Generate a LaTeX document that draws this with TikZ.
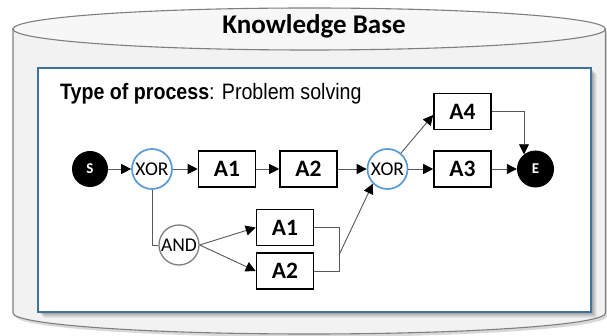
\documentclass[tikz,border=0pt]{standalone}
\usepackage{fontspec}
\setmainfont{Carlito}
\newfontfamily\arialn[FakeStretch=0.88]{Liberation Sans}
\usetikzlibrary{arrows.meta,calc}

\definecolor{cylfill}{HTML}{F2F2F2}
\definecolor{cyltop}{HTML}{F7F7F7}
\definecolor{cylline}{HTML}{7F7F7F}
\definecolor{framecol}{HTML}{41719C}
\definecolor{xorcol}{HTML}{5B9BD5}
\definecolor{andcol}{HTML}{7F7F7F}
\definecolor{linecol}{HTML}{595959}

\begin{document}
\begin{tikzpicture}[x=1pt,y=-1pt,
 actbox/.style={draw=black,line width=1.6pt,fill=white,minimum width=57pt,minimum height=36pt,inner sep=0pt,font=\fontsize{23.5}{24}\selectfont\bfseries},
 xorgate/.style={circle,draw=xorcol,line width=1.7pt,fill=white,minimum size=40pt,inner sep=0pt,font=\fontsize{19.5}{20}\selectfont},
 andgate/.style={circle,draw=andcol,line width=1.3pt,fill=white,minimum size=40pt,inner sep=0pt,font=\fontsize{19.5}{20}\selectfont},
 terminal/.style={circle,fill=black,minimum size=36pt,inner sep=0pt,text=white,font=\fontsize{15}{15}\selectfont\bfseries},
 conn/.style={draw=linecol,line width=0.9pt},
 arr/.style={conn,-{Triangle[length=10pt,width=10pt,color=black]}},
 cylshape/.style={draw=cylline,line width=1.1pt},
]
\useasboundingbox (0,0) rectangle (607,336);

% cylinder shadow
\fill[black,opacity=0.15] (15,32) -- (15,316) arc[start angle=180,end angle=360,x radius=296.25pt,y radius=21pt] -- (607.5,32) -- cycle;
% cylinder body
\draw[cylshape,fill=cylfill] (13,29) -- (13,313) arc[start angle=180,end angle=360,x radius=296.25pt,y radius=21pt] -- (605.5,29) -- cycle;
% cylinder top
\draw[cylshape,fill=cyltop] (309.25,29) ellipse [x radius=296.25pt,y radius=21pt];

% inner frame shadow and frame
\foreach \d/\o in {1/0.10,2/0.09,3/0.08,4/0.07,5/0.06,6/0.05} {
  \fill[black,opacity=\o] (38+\d,68+\d) rectangle (591+\d,312+\d);
}
\draw[framecol,line width=1.4pt,fill=white] (38,68) rectangle (591,312);

% texts
\node[anchor=base,inner sep=0pt,font=\fontsize{27}{27}\selectfont\bfseries] (title) at (314,34) {Knowledge Base};
\node[anchor=base west,inner sep=0pt,font=\arialn\fontsize{22.3}{23}\selectfont] (ptype) at (60,99.5) {\textbf{Type of process}: Problem solving};

% nodes
\node[terminal] (S) at (90,169) {S};
\node[xorgate] (X1) at (152,169) {XOR};
\node[actbox] (A1) at (227,169) {A1};
\node[actbox] (A2) at (308.5,169) {A2};
\node[xorgate] (X2) at (387.5,169) {XOR};
\node[actbox] (A3) at (462.5,169) {A3};
\node[actbox] (A4) at (462.5,111.5) {A4};
\node[terminal,minimum size=37pt] (E) at (535.5,169) {E};
\node[andgate] (AND) at (179,245) {AND};
\node[actbox] (B1) at (285,227.5) {A1};
\node[actbox] (B2) at (285,271) {A2};
\coordinate (J) at (339,255);

% connectors
\draw[arr] (S) -- (X1);
\draw[arr] (X1) -- (A1);
\draw[arr] (A1) -- (A2);
\draw[arr] (A2) -- (X2);
\draw[arr] (X2) -- (A3);
\draw[arr] (A3) -- (E);
\draw[arr] (X2) -- ([yshift=-3.5pt]A4.west);
\draw[arr] (A4.east) -| (E.128);
\draw[conn] (X1.south) |- (AND.west);
\draw[arr] (AND.east) -- (B1.west);
\draw[arr] (AND.east) -- (B2.west);
\draw[conn] (B1.east) -| (J);
\draw[conn] (B2.east) -| (J);
\draw[arr] (J) -- (X2.225);
\end{tikzpicture}
\end{document}
